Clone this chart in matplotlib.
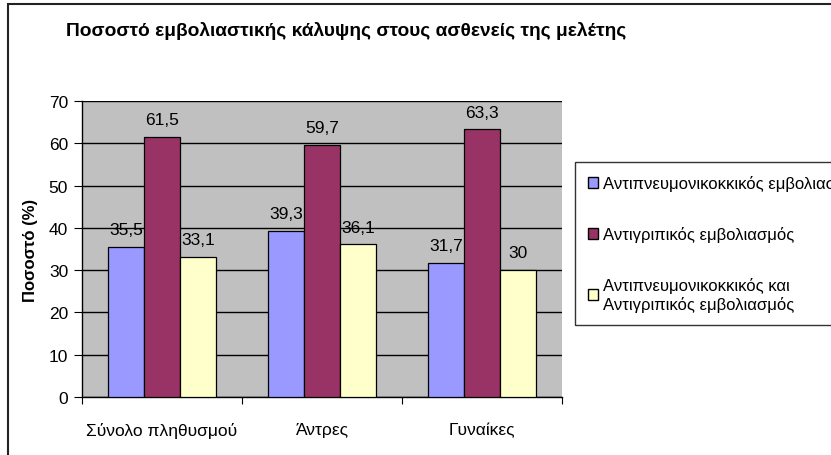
import matplotlib
matplotlib.use("Agg")
import matplotlib.pyplot as plt
from matplotlib.patches import Rectangle, Patch
import numpy as np

plt.rcParams['font.family'] = ['Liberation Sans', 'DejaVu Sans']

categories = ["Σύνολο πληθυσμού", "Άντρες", "Γυναίκες"]
series_names = ["Αντιπνευμονικοκκικός εμβολιασμός",
                "Αντιγριπικός εμβολιασμός",
                "Αντιπνευμονικοκκικός και\nΑντιγριπικός εμβολιασμός"]
pneumo = [35.5, 39.3, 31.7]
flu = [61.5, 59.7, 63.3]
both = [33.1, 36.1, 30]
colors = ["#9999FF", "#993366", "#FFFFCC"]

fig = plt.figure(figsize=(8.31, 4.56), dpi=100)
fig.patch.set_facecolor("white")
# outer chart frame
fig.patches.append(Rectangle((8/831, -0.05), 1.2, 1 - 5/456 + 0.05, transform=fig.transFigure,
                             fill=False, edgecolor="#222222", linewidth=1.5, zorder=0))

ax = fig.add_axes([82/831, 1 - 398/456, 480/831, 296/456])
ax.set_facecolor("#C0C0C0")

x = np.arange(len(categories)) + 0.5
w = 0.225
for i, (vals, c) in enumerate(zip([pneumo, flu, both], colors)):
    pos = x + (i - 1) * w
    ax.bar(pos, vals, width=w, color=c, edgecolor="black", linewidth=0.9, zorder=3)
    for p, v in zip(pos, vals):
        ax.text(p, v + 2.3, f"{v:g}".replace(".", ","), ha="center", va="bottom",
                fontsize=12.5, zorder=4)

ax.set_xlim(0, 3)
ax.set_ylim(0, 70)
ax.set_yticks(range(0, 71, 10))
ax.yaxis.grid(True, color="black", linewidth=1, zorder=1)
ax.set_axisbelow(True)
ax.set_xticks([0, 1, 2, 3])
ax.set_xticklabels([])
ax.set_xticks(x, minor=True)
ax.set_xticklabels(categories, minor=True, fontsize=12.5)
ax.tick_params(axis="x", which="minor", length=0, pad=18)
ax.tick_params(axis="x", which="major", length=5, direction="out")
ax.tick_params(axis="y", length=6, direction="out", labelsize=12.5, pad=4)
for s in ["top", "right"]:
    ax.spines[s].set_visible(False)
ax.spines["left"].set_linewidth(1)
ax.spines["bottom"].set_linewidth(1)
ax.set_ylabel("Ποσοστό (%)", fontsize=12, fontweight="bold", labelpad=8)

fig.text(66/831, 1 - 31/456, "Ποσοστό εμβολιαστικής κάλυψης στους ασθενείς της μελέτης",
         fontsize=13.8, fontweight="bold", va="center", ha="left")

handles = [Patch(facecolor=c, edgecolor="black", linewidth=1) for c in colors]
leg = fig.legend(handles, series_names, loc="upper left",
                 bbox_to_anchor=(575/831, 1 - 163/456), fontsize=12,
                 frameon=True, fancybox=False, edgecolor="black",
                 handlelength=0.6, handleheight=0.6, handletextpad=0.3,
                 labelspacing=2.1, borderpad=0.8, borderaxespad=0)
leg.get_frame().set_linewidth(1)

fig.savefig("out.png", dpi=100)
